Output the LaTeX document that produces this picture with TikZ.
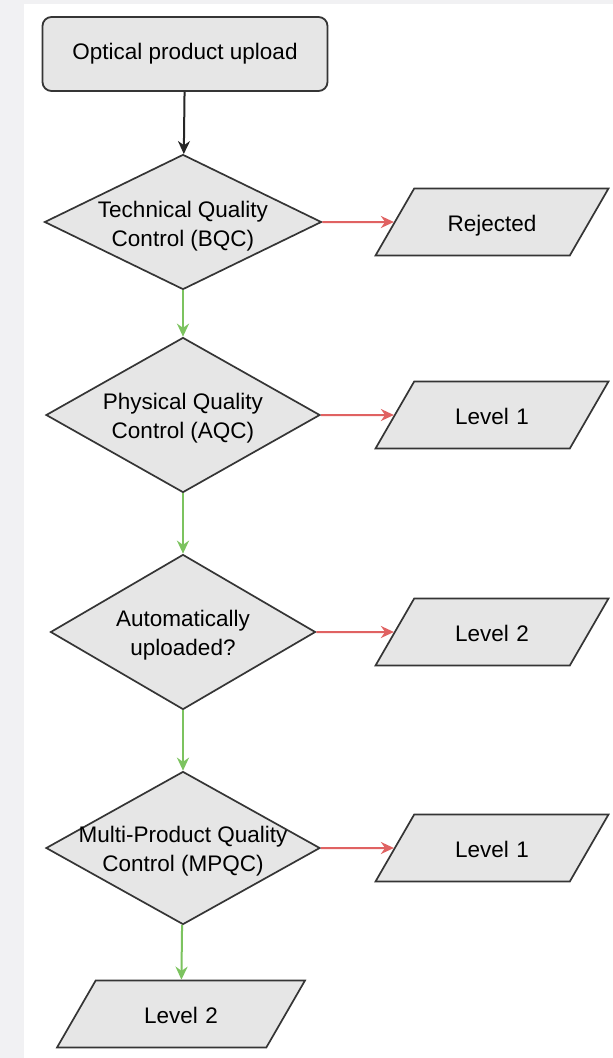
\documentclass[tikz,border=0pt]{standalone}
\usepackage{fontspec}
\setmainfont{Liberation Sans}
\usepackage{tikz}
\usetikzlibrary{shapes.geometric,arrows.meta}
\definecolor{boxgray}{HTML}{E6E6E6}
\definecolor{linegray}{HTML}{353535}
\definecolor{passgreen}{HTML}{7CC35F}
\definecolor{failred}{HTML}{E06262}
\definecolor{pagegray}{HTML}{F1F1F3}
\tikzset{
startnodev1/.style={rectangle, rounded corners=9pt, draw=linegray, fill=boxgray, line width=1.8pt, inner sep=0pt, minimum width=285pt, minimum height=74pt},
decisionnodev1/.style={diamond, draw=linegray, fill=boxgray, line width=1.7pt, inner sep=0pt, minimum width=274pt, minimum height=155pt},
outputnodev1/.style={trapezium, trapezium left angle=60, trapezium right angle=120, draw=linegray, fill=boxgray, line width=1.7pt, text width=100pt, align=center, text height=19.5pt, text depth=1.5pt, inner xsep=27.8pt, inner ysep=23pt},
startarrow/.style={-{Stealth[length=13pt,width=12pt]}, line width=2pt, draw=black!85},
passarrow/.style={-{Stealth[length=13pt,width=12pt]}, line width=2pt, draw=passgreen, fill=passgreen},
failarrow/.style={-{Stealth[length=13pt,width=12pt]}, line width=2pt, draw=failred, fill=failred},
}

\begin{document}
\begin{tikzpicture}[x=1pt, y=-1pt, font=\fontsize{22.5}{29}\selectfont]
\fill[pagegray] (0,0) rectangle (613,1058);
\fill[white] (24,4) rectangle (613,1058);
\useasboundingbox (0,0) rectangle (613,1058);

\node[startnodev1] at (185,54) (upload) {Optical product upload};

\node[decisionnodev1, minimum width=277pt, minimum height=135pt] at (183,222) (bqc) [label ={[align=center,yshift=-4pt]center:Technical Quality\\Control (BQC)}] {};
\node[decisionnodev1] at (183,415) (aqc) [label ={[align=center,yshift=-3pt]center:Physical Quality\\Control (AQC)}] {};
\node[decisionnodev1, minimum width=265pt] at (183,632) (auto) [label ={[align=center,yshift=-3pt]center:Automatically\\uploaded?}] {};
\node[decisionnodev1, minimum height=153pt] at (183,848) (mpqc) [label ={[align=center,yshift=-3pt]center:Multi-Product Quality\\Control (MPQC)}] {};

\node[outputnodev1] at (492,222) (rejected) {Rejected};
\node[outputnodev1] at (492,415) (levelA) {Level 1};
\node[outputnodev1] at (492,632) (levelB) {Level 2};
\node[outputnodev1] at (492,848) (levelC) {Level 1};
\node[outputnodev1, inner xsep=35.3pt] at (181,1014) (levelD) {Level 2};

\draw[startarrow] (upload) to (bqc);
\draw[passarrow] (bqc) to (aqc);
\draw[passarrow] (aqc) to (auto);
\draw[passarrow] (auto) to (mpqc);
\draw[passarrow] (mpqc) to (levelD);

\draw[failarrow] (bqc) to (rejected);
\draw[failarrow] (aqc) to (levelA);
\draw[failarrow] (auto) to (levelB);
\draw[failarrow] (mpqc) to (levelC);
\end{tikzpicture}
\end{document}
